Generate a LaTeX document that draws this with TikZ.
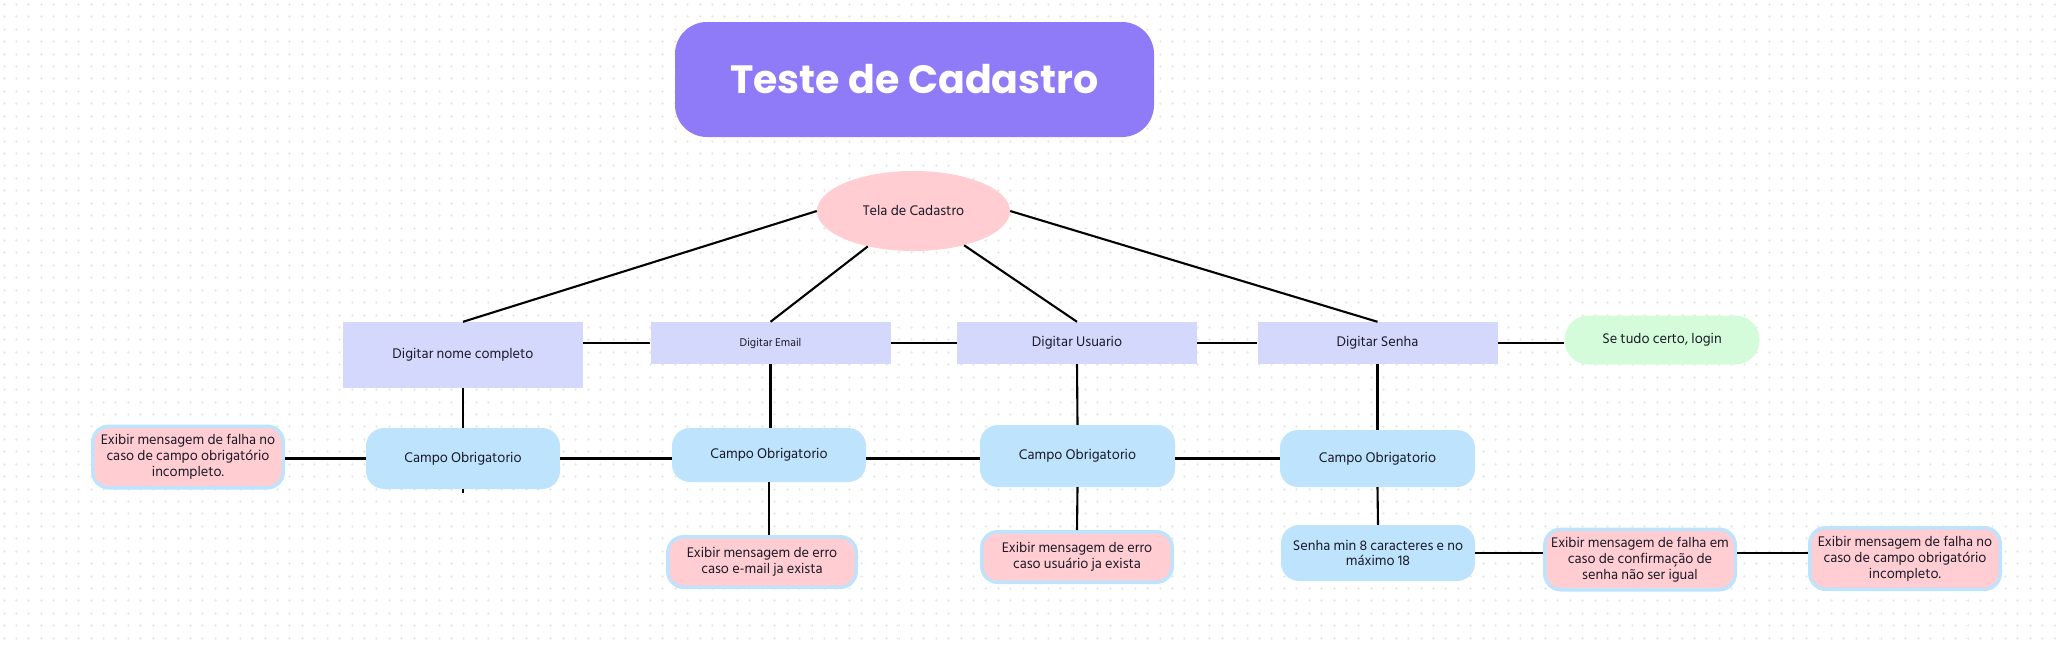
\documentclass[tikz,border=0pt]{standalone}
\usepackage{fontspec}
\setmainfont{Hind Siliguri}
\newfontfamily\titlefont{Poppins}
\usetikzlibrary{shapes.geometric}
\definecolor{titlec}{HTML}{8F7AF8}
\definecolor{pinkc}{HTML}{FFCDD2}
\definecolor{lavc}{HTML}{D5D8FD}
\definecolor{bluec}{HTML}{BEE3FC}
\definecolor{greenc}{HTML}{D5FCDA}
\definecolor{txtc}{HTML}{1A1A28}
\definecolor{gridc}{HTML}{EBEBEB}
\begin{document}
\begin{tikzpicture}[x=1pt,y=-1pt,
  link/.style={draw=black,line width=2.1pt},
  txt/.style={text=txtc,font=\fontsize{14.3}{15.8}\selectfont,inner sep=0pt,align=center},
  digit/.style={txt,fill=lavc,minimum width=240,minimum height=42},
  campo/.style={txt,fill=bluec,rounded corners=18,minimum width=194},
  errbox/.style={txt,fill=pinkc,draw=bluec,line width=3.5pt,rounded corners=16,minimum width=190.5},
]
\useasboundingbox (0,0) rectangle (2063,645);
\fill[white] (0,0) rectangle (2063,645);
% background crosses
\foreach \j in {0,...,51}
  \draw[gridc,line width=0.9pt,dash pattern=on 3pt off 9.43pt] (2.5,{4.3+12.43*\j}) -- (2063,{4.3+12.43*\j});
\foreach \i in {0,...,165}
  \draw[gridc,line width=0.9pt,dash pattern=on 3pt off 9.43pt] ({4+12.43*\i},2.8) -- ({4+12.43*\i},645);

% title
\node[fill=titlec,rounded corners=32,minimum width=479,minimum height=115,inner sep=0pt,
  text=white,font=\titlefont\bfseries\fontsize{39.5}{44}\selectfont] (title) at (914.5,79.5) {Teste de Cadastro};

% center ellipse
\node[txt,ellipse,fill=pinkc,minimum width=193,minimum height=80] (ell) at (913.5,211) {Tela de Cadastro};

% top row
\node[digit,minimum height=66] (nome) at (463,355) {Digitar nome completo};
\node[digit,font=\fontsize{11.5}{13}\selectfont] (email) at (770.5,343) {Digitar Email};
\node[digit] (usuario) at (1077,343) {Digitar Usuario};
\node[digit] (senha) at (1377.5,343) {Digitar Senha};
\node[txt,fill=greenc,rounded corners=24,minimum width=195,minimum height=49] (ok) at (1662,340) {Se tudo certo, login};

% campo row
\node[errbox,minimum height=61.5] (redL) at (188,457) {Exibir mensagem de falha no\\caso de campo obrigatório\\incompleto.};
\node[campo,minimum height=61] (campoN) at (463,458.5) {Campo Obrigatorio};
\node[campo,minimum height=54] (campoE) at (769,455) {Campo Obrigatorio};
\node[campo,minimum width=195,minimum height=62] (campoU) at (1077.5,456) {Campo Obrigatorio};
\node[campo,minimum width=195,minimum height=57] (campoS) at (1377.5,458.5) {Campo Obrigatorio};

% bottom row
\node[errbox,minimum width=188.5,minimum height=50.5] (redE) at (762,562) {Exibir mensagem de erro\\caso e-mail ja exista};
\node[errbox,minimum height=50.5] (redU) at (1077,557) {Exibir mensagem de erro\\caso usuário ja exista};
\node[campo,minimum height=56] (smin) at (1378,553) {Senha min 8 caracteres e no\\máximo 18};
\node[errbox,minimum height=60.5] (redC) at (1640,559.5) {Exibir mensagem de falha em\\caso de confirmação de\\senha não ser igual};
\node[errbox,minimum height=61.5] (redR) at (1905,558.5) {Exibir mensagem de falha no\\caso de campo obrigatório\\incompleto.};

% connectors from ellipse
\draw[link] (ell.west) -- (nome.north);
\draw[link] (ell) -- (email.north);
\draw[link] (ell) -- (usuario.north);
\draw[link] (ell.east) -- (senha.north);

% top row horizontal
\draw[link] (nome.east |- email.west) -- (email.west);
\draw[link] (email.east) -- (usuario.west);
\draw[link] (usuario.east) -- (senha.west);
\draw[link] (senha.east) -- (ok.west |- senha.east);

% verticals
\draw[link] (nome.south) -- (campoN.north);
\coordinate (stub) at ([yshift=-4pt]campoN.south);
\draw[link] (campoN.south) -- (stub);
\draw[link] (email.south) -- (email.south |- campoE.north);
\draw[link] (campoE.south) -- (campoE.south |- redE.north);
\draw[link] (usuario.south) -- (campoU.north);
\draw[link] (campoU.south) -- (redU.north);
\draw[link] (senha.south) -- (campoS.north);
\draw[link] (campoS.south) -- (smin.north);

% campo row horizontal
\draw[link] (redL.east |- campoN.east) -- (campoN.west);
\draw[link] (campoN.east) -- (campoN.east -| campoE.west);
\draw[link] (campoE.east |- campoN.east) -- (campoU.west |- campoN.east);
\draw[link] (campoU.east |- campoN.east) -- (campoS.west |- campoN.east);

% bottom row horizontal
\draw[link] (smin.east) -- (smin.east -| redC.west);
\draw[link] (redC.east |- smin.east) -- (redR.west |- smin.east);
\end{tikzpicture}
\end{document}
